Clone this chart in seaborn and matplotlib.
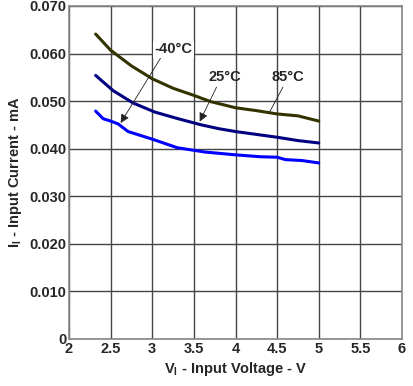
import numpy as np
import pandas as pd
import matplotlib
matplotlib.use("Agg")
import matplotlib.pyplot as plt
import seaborn as sns

# === Data ===
v_85 = [2.32, 2.5, 2.75, 3.0, 3.25, 3.5, 3.7, 4.0, 4.25, 4.5, 4.75, 5.0]
i_85 = [0.0641, 0.0607, 0.0574, 0.0547, 0.0527, 0.0512, 0.0499, 0.0486, 0.0480, 0.0473, 0.0469, 0.0458]

v_25 = [2.32, 2.53, 2.77, 3.03, 3.31, 3.59, 3.8, 4.0, 4.25, 4.5, 4.75, 5.0]
i_25 = [0.0554, 0.0522, 0.0496, 0.0477, 0.0463, 0.0450, 0.0442, 0.0436, 0.0430, 0.0424, 0.0417, 0.0412]

v_m40 = [2.32, 2.41, 2.5, 2.59, 2.71, 3.0, 3.3, 3.63, 4.0, 4.3, 4.5, 4.6, 4.8, 5.0]
i_m40 = [0.0479, 0.0463, 0.0458, 0.0452, 0.0436, 0.0420, 0.0402, 0.0393, 0.0387, 0.0383, 0.0382, 0.0377, 0.0375, 0.0370]

series = ["85°C", "25°C", "-40°C"]
colors = ["#333300", "#000080", "#0000ff"]

x_ticks = [2, 2.5, 3, 3.5, 4, 4.5, 5, 5.5, 6]
x_tick_labels = ["2", "2.5", "3", "3.5", "4", "4.5", "5", "5.5", "6"]
y_ticks = [0, 0.01, 0.02, 0.03, 0.04, 0.05, 0.06, 0.07]
y_tick_labels = ["0", "0.010", "0.020", "0.030", "0.040", "0.050", "0.060", "0.070"]

df = pd.concat([
    pd.DataFrame({"V": v_85, "I": i_85, "T": "85°C"}),
    pd.DataFrame({"V": v_25, "I": i_25, "T": "25°C"}),
    pd.DataFrame({"V": v_m40, "I": i_m40, "T": "-40°C"}),
], ignore_index=True)

# === Style ===
sns.set_style("white")
plt.rcParams["font.family"] = ["Liberation Sans", "DejaVu Sans"]
plt.rcParams["mathtext.fontset"] = "custom"
plt.rcParams["mathtext.bf"] = "Liberation Sans:bold"
plt.rcParams["mathtext.rm"] = "Liberation Sans"

fig = plt.figure(figsize=(4.14, 3.86), dpi=100)
ax = fig.add_axes([0.1667, 0.122, 0.8043, 0.8625])

sns.lineplot(data=df, x="V", y="I", hue="T", hue_order=series,
             palette=colors, linewidth=2.2, legend=False, ax=ax,
             sort=False, estimator=None)

ax.set_xlim(2, 6)
ax.set_ylim(0, 0.07)
ax.set_xticks(x_ticks)
ax.set_xticklabels(x_tick_labels, fontsize=10.5, fontweight="bold")
ax.set_yticks(y_ticks)
ax.set_yticklabels(y_tick_labels, fontsize=10.5, fontweight="bold")
ax.tick_params(axis="both", length=0, pad=2)
ax.grid(True, color="#444444", linewidth=1.0)
for s in ax.spines.values():
    s.set_color("#888888")
    s.set_linewidth(1.2)

ax.set_xlabel(r"V$_\mathbf{I}$ - Input Voltage - V", fontsize=10.5, fontweight="bold", labelpad=3)
ax.set_ylabel(r"I$_\mathbf{I}$ - Input Current - mA", fontsize=10.5, fontweight="bold", labelpad=4)

# === Annotations ===
arrow = dict(arrowstyle="-|>", color="#222222", lw=0.6, mutation_scale=13,
             shrinkA=0, shrinkB=0)
ax.annotate("-40°C", xy=(2.62, 0.0454), xytext=(3.25, 0.0609),
            fontsize=10.5, fontweight="bold", ha="center", va="center",
            arrowprops=dict(arrow, relpos=(0.2, 0.0)),
            bbox=dict(boxstyle="square,pad=0.1", fc="white", ec="none"))
ax.annotate("25°C", xy=(3.57, 0.0457), xytext=(3.87, 0.0551),
            fontsize=10.5, fontweight="bold", ha="center", va="center",
            arrowprops=dict(arrow, relpos=(0.3, 0.0)))
ax.annotate("85°C", xy=(4.41, 0.0477), xytext=(4.63, 0.0551),
            fontsize=10.5, fontweight="bold", ha="center", va="center",
            arrowprops=dict(arrowstyle="-", color="#222222", lw=0.6,
                            shrinkA=0, shrinkB=0, relpos=(0.4, 0.0)))

fig.savefig("out.png", dpi=100)
